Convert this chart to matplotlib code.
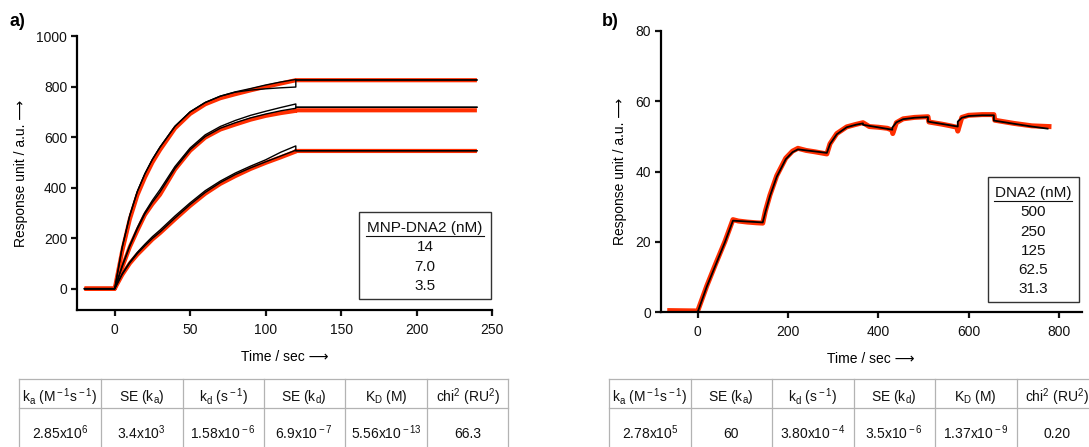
import matplotlib
matplotlib.use("Agg")
import matplotlib.pyplot as plt
from matplotlib.lines import Line2D
from matplotlib.patches import Rectangle

plt.rcParams['font.family'] = ['Liberation Sans', 'DejaVu Sans']
plt.rcParams['mathtext.fontset'] = 'custom'
plt.rcParams['mathtext.rm'] = 'Liberation Sans'
plt.rcParams['mathtext.it'] = 'Liberation Sans:italic'
plt.rcParams['mathtext.bf'] = 'Liberation Sans:bold'

# ---------------- data: panel a (MNP-DNA2) ----------------
time_a = [-20, 0, 5, 10, 15, 20, 25, 30, 40, 50, 60, 70, 80, 90, 100, 110, 120, 120, 240]
red_14 = [0, 0, 150, 275, 370, 440, 500, 549, 635, 692, 730, 754, 770, 785, 799, 812, 825, 825, 825]
red_70 = [0, 0, 85, 165, 230, 292, 335, 372, 472, 546, 598, 630, 650, 669, 684, 695, 704, 706, 706]
red_35 = [0, 0, 55, 100, 135, 165, 195, 220, 275, 328, 376, 415, 446, 474, 498, 520, 543, 545, 545]

fitA_14 = [0, 0, 165, 290, 385, 455, 512, 560, 643, 700, 737, 762, 779, 792, 806, 818, 828, 826, 826]
fitB_14 = [0, 0, 165, 290, 385, 455, 512, 560, 643, 700, 737, 762, 778, 786, 791, 795, 798, 826, 826]
fitA_70 = [0, 0, 92, 172, 242, 302, 350, 392, 484, 557, 609, 642, 666, 686, 702, 717, 731, 718, 718]
fitB_70 = [0, 0, 88, 168, 236, 296, 342, 382, 476, 550, 602, 635, 657, 676, 691, 704, 714, 718, 718]
fitA_35 = [0, 0, 60, 106, 144, 176, 206, 232, 288, 340, 388, 426, 458, 485, 510, 540, 565, 546, 546]
fitB_35 = [0, 0, 57, 102, 139, 170, 199, 224, 280, 333, 381, 420, 452, 478, 502, 525, 548, 546, 546]

legend_a_title = "MNP-DNA2 (nM)"
legend_a_items = ["14", "7.0", "3.5"]

# ---------------- data: panel b (DNA2 single cycle) ----------------
time_b_data = [-62, 0, 20, 40, 60, 78, 90, 110, 130, 144, 150, 160, 175, 195, 210, 222, 240, 260,
               286, 293, 308, 330, 350, 366, 380, 400, 420, 430, 432, 440, 455, 480, 510, 512,
               540, 560, 574, 576, 585, 600, 630, 656, 658, 700, 740, 778]
resp_b_data = [0.4, 0.3, 7.4, 13.8, 20.0, 26.3, 25.9, 25.6, 25.4, 25.3, 28.8, 33.3, 38.8, 43.8, 45.8, 46.6, 46.0, 45.6,
               45.0, 47.9, 50.8, 52.7, 53.4, 53.9, 52.8, 52.6, 52.3, 51.8, 50.8, 53.9, 55.0, 55.4, 55.6, 54.1,
               53.5, 53.0, 52.6, 51.5, 55.4, 56.0, 56.2, 56.2, 54.6, 53.7, 53.0, 52.8]
time_b_fit = [0, 20, 40, 60, 78, 144, 150, 160, 175, 195, 210, 222, 286, 293, 308, 330, 350, 366, 366,
              431, 431, 440, 455, 480, 510, 510, 576, 576, 585, 600, 630, 656, 656, 700, 740, 775]
resp_b_fit = [0, 7.2, 13.5, 19.8, 26.0, 25.5, 28.5, 33.0, 38.5, 43.5, 45.5, 46.3, 45.3, 47.8, 50.6, 52.6, 53.3, 53.7, 53.3,
              51.9, 52.5, 54.0, 54.9, 55.3, 55.5, 54.2, 52.8, 54.2, 55.3, 55.8, 56.0, 56.0, 54.5, 53.6, 52.8, 52.2]

legend_b_title = "DNA2 (nM)"
legend_b_items = ["500", "250", "125", "62.5", "31.3"]

# ---------------- data: tables ----------------
table_header = [r"k$_{\rm a}$ (M$^{\rm -1}$s$^{\rm -1}$)", r"SE (k$_{\rm a}$)", r"k$_{\rm d}$ (s$^{\rm -1}$)",
                r"SE (k$_{\rm d}$)", r"K$_{\rm D}$ (M)", r"chi$^{\rm 2}$ (RU$^{\rm 2}$)"]
table_a_values = [r"2.85x10$^{\rm 6}$", r"3.4x10$^{\rm 3}$", r"1.58x10$^{\rm -6}$", r"6.9x10$^{\rm -7}$",
                  r"5.56x10$^{\rm -13}$", "66.3"]
table_b_values = [r"2.78x10$^{\rm 5}$", "60", r"3.80x10$^{\rm -4}$", r"3.5x10$^{\rm -6}$",
                  r"1.37x10$^{\rm -9}$", "0.20"]

x_label = "Time / sec \u27f6"
y_label = "Response unit / a.u. \u27f6"

# ---------------- figure ----------------
W, H = 1089, 447
fig = plt.figure(figsize=(W / 100, H / 100), dpi=100)


def fx(x):
    return x / W


def fy(y):
    return 1 - y / H


RED = '#ff2e00'


def style_axes(ax):
    for s in ['top', 'right']:
        ax.spines[s].set_visible(False)
    for s in ['left', 'bottom']:
        ax.spines[s].set_linewidth(1.6)
    ax.tick_params(axis='both', width=1.6, length=4.5, labelsize=10, colors='#111111')
    ax.tick_params(axis='x', pad=5)
    ax.tick_params(axis='y', pad=2.5)


# panel a
axa = fig.add_axes([fx(77), fy(310), (492 - 77) / W, (310 - 36) / H])
for r in (red_14, red_70, red_35):
    axa.plot(time_a, r, color=RED, lw=3.0, solid_capstyle='butt', zorder=2)
for f in (fitA_14, fitB_14, fitA_70, fitB_70, fitA_35, fitB_35):
    axa.plot(time_a, f, color='black', lw=1.0, zorder=3)
axa.set_xlim(-25, 250)
axa.set_ylim(-84.4, 1000)
axa.set_xticks([0, 50, 100, 150, 200, 250])
axa.set_yticks([0, 200, 400, 600, 800, 1000])
style_axes(axa)
axa.set_xlabel(x_label, fontsize=10, labelpad=9)
axa.set_ylabel(y_label, fontsize=10, labelpad=6)

# panel b
axb = fig.add_axes([fx(660.7), fy(312), (1081.7 - 660.7) / W, (312 - 31) / H])
axb.plot(time_b_data, resp_b_data, color=RED, lw=3.6, zorder=2)
axb.plot(time_b_fit, resp_b_fit, color='black', lw=1.3, zorder=3)
axb.set_xlim(-82, 850.5)
axb.set_ylim(0, 80)
axb.set_xticks([0, 200, 400, 600, 800])
axb.set_yticks([0, 20, 40, 60, 80])
style_axes(axb)
axb.set_xlabel(x_label, fontsize=10, labelpad=9)
axb.set_ylabel(y_label, fontsize=10, labelpad=6)

# panel letters
fig.text(fx(10), fy(21), "a)", fontsize=13, fontweight='bold', ha='left', va='center')
fig.text(fx(602), fy(21), "b)", fontsize=13, fontweight='bold', ha='left', va='center')


# legend boxes
def legend_box(x0, y0, x1, y1, cx, title, items, ys, ul):
    fig.patches.append(Rectangle((fx(x0), fy(y1)), (x1 - x0) / W, (y1 - y0) / H,
                                 transform=fig.transFigure, fill=False, ec='#333333', lw=1.0))
    fig.text(fx(cx), fy(ys[0]), title, fontsize=11, ha='center', va='center', color='#111111')
    fig.lines.append(Line2D([fx(ul[0]), fx(ul[1])], [fy(ul[2]), fy(ul[2])],
                            transform=fig.transFigure, color='#111111', lw=0.8))
    for t, y in zip(items, ys[1:]):
        fig.text(fx(cx), fy(y), t, fontsize=11, ha='center', va='center', color='#111111')


legend_box(359.3, 211.7, 490.7, 299, 425, legend_a_title, legend_a_items,
           [228.3, 247.3, 266.7, 285.7], (366, 484, 236))
legend_box(987.8, 177, 1078.9, 302.3, 1033.3, legend_b_title, legend_b_items,
           [193, 212.3, 232, 251, 269.7, 289], (993.5, 1072, 200.5))


# tables
def draw_table(xs, header, values):
    gray = '#b3b3b3'
    top, mid, bot = 378.5, 408, 448
    for y in (top, mid):
        fig.lines.append(Line2D([fx(xs[0]), fx(xs[-1])], [fy(y), fy(y)],
                                transform=fig.transFigure, color=gray, lw=0.9))
    for x in xs:
        fig.lines.append(Line2D([fx(x), fx(x)], [fy(top), fy(bot)],
                                transform=fig.transFigure, color=gray, lw=0.9))
    for i in range(len(header)):
        cx = (xs[i] + xs[i + 1]) / 2
        fig.text(fx(cx), fy(401.5), header[i], fontsize=10, ha='center', va='baseline', color='#111111')
        fig.text(fx(cx), fy(438.5), values[i], fontsize=10, ha='center', va='baseline', color='#111111')


draw_table([19, 100.8, 182.5, 263.5, 345.1, 426.8, 508.2], table_header, table_a_values)
draw_table([609, 690.6, 772, 853.5, 935, 1016.6, 1098], table_header, table_b_values)

fig.savefig("out.png", dpi=100)
